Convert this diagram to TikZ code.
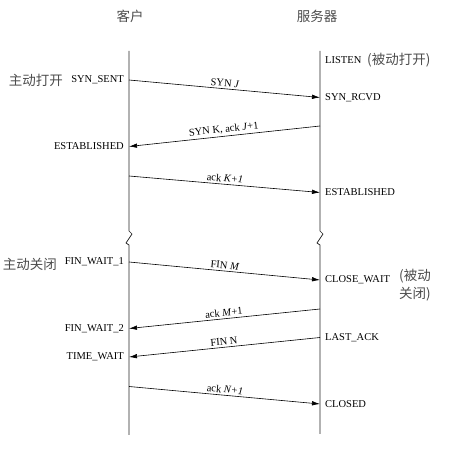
\documentclass[tikz,border=0pt]{standalone}
\usepackage{fontspec}
\setmainfont{Liberation Serif}
\newfontfamily\cjk{Noto Sans CJK SC}
\usetikzlibrary{arrows.meta}
\tikzset{
  life/.style={line width=0.7pt, draw=black!85},
  msg/.style={line width=0.6pt, draw=black, -{Latex[length=8pt,width=4.5pt]}},
  lbl/.style={font=\fontsize{10.5}{12}\selectfont, sloped, above, inner sep=2pt},
  stR/.style={font=\fontsize{10.5}{12}\selectfont, anchor=west, inner sep=0pt},
  stL/.style={font=\fontsize{10.5}{12}\selectfont, anchor=east, inner sep=0pt},
  zh/.style={font=\cjk\fontsize{13.5}{15}\selectfont, text=black!70, inner sep=0pt},
}
\begin{document}
\begin{tikzpicture}[x=1pt,y=-1pt]
\useasboundingbox (0,0) rectangle (469,454);
% headers
\node[zh] (hc) at (130,16) {客户};
\node[zh] (hs) at (317,16) {服务器};
% lifelines
\coordinate (ct) at (129,51);
\coordinate (cb) at (129,435);
\coordinate (st) at (320,51);
\coordinate (sb) at (320,434);
\draw[life] (ct) -- (129,231) -- (132,234) -- (126,243) -- (129,245) -- (cb);
\draw[life] (st) -- (320,231) -- (323,234) -- (317,243) -- (320,245) -- (sb);
% message endpoints
\coordinate (c1) at (129,80);   \coordinate (s1) at (320,97.5);
\coordinate (s2) at (320,126);  \coordinate (c2) at (129,146.5);
\coordinate (c3) at (129,176);  \coordinate (s3) at (320,192.5);
\coordinate (c4) at (129,262);  \coordinate (s4) at (320,280);
\coordinate (s5) at (320,309);  \coordinate (c5) at (129,328.5);
\coordinate (s6) at (320,337.5);\coordinate (c6) at (129,357);
\coordinate (c7) at (129,386.5);\coordinate (s7) at (320,404);
% messages
\draw[msg] (c1) -- node[lbl] {SYN \textit{J}} (s1);
\draw[msg] (s2) -- node[lbl] {SYN K, ack \textit{J}+1} (c2);
\draw[msg] (c3) -- node[lbl] {ack \textit{K+1}} (s3);
\draw[msg] (c4) -- node[lbl] {FIN \textit{M}} (s4);
\draw[msg] (s5) -- node[lbl] {ack \textit{M}+1} (c5);
\draw[msg] (s6) -- node[lbl] {FIN N} (c6);
\draw[msg] (c7) -- node[lbl] {ack \textit{N+1}} (s7);
% server states
\node[stR] (listen) at (325,60) {LISTEN};
\node[zh, anchor=west] (pasopen) at (367,60) {(被动打开)};
\node[stR] (synrcvd) at (325,97.5) {SYN\_RCVD};
\node[stR] (estS) at (325,192.5) {ESTABLISHED};
\node[stR] (closew) at (325,280) {CLOSE\_WAIT};
\node[zh, anchor=west] (pasclose1) at (399,276) {(被动};
\node[zh, anchor=west] (pasclose2) at (399,294) {关闭)};
\node[stR] (lastack) at (325,337.5) {LAST\_ACK};
\node[stR] (closed) at (325,404) {CLOSED};
% client states
\node[stL] (synsent) at (124,80) {SYN\_SENT};
\node[zh, anchor=east] (actopen) at (63,80) {主动打开};
\node[stL] (estC) at (124,146.5) {ESTABLISHED};
\node[stL] (fw1) at (124,262) {FIN\_WAIT\_1};
\node[zh, anchor=east] (actclose) at (57,264) {主动关闭};
\node[stL] (fw2) at (124,328.5) {FIN\_WAIT\_2};
\node[stL] (tw) at (124,357) {TIME\_WAIT};
\end{tikzpicture}
\end{document}
